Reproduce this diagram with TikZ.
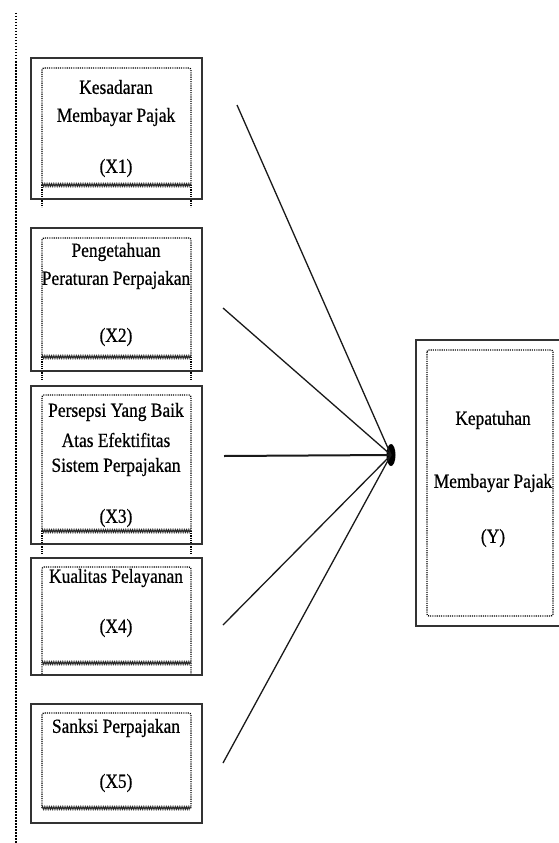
\documentclass[tikz,border=0pt]{standalone}
\usepackage{fontspec}
\setmainfont[FakeStretch=0.87,FakeBold=0.6]{Liberation Serif}
\usetikzlibrary{decorations.pathmorphing}
\tikzset{
  outerbox/.style={draw=black!80, line width=1.8pt},
  innerbox/.style={draw=black, line width=1.3pt, dash pattern=on 1.1pt off 1.1pt, rounded corners=2pt},
  sideline/.style={draw=black, line width=1.3pt, dash pattern=on 1.1pt off 1.1pt},
  wavy/.style={draw=black!85, line width=0.8pt, decorate, decoration={zigzag, amplitude=1.5pt, segment length=1.8pt}},
  lbl/.style={inner sep=0pt, font=\fontsize{20}{22}\selectfont, text=black},
  link/.style={draw=black!90, line width=1.3pt},
  hlink/.style={draw=black!90, line width=2pt},
  guide/.style={draw=black, line width=1.8pt, dash pattern=on 1.5pt off 1.5pt}
}
\begin{document}
\begin{tikzpicture}[x=1pt, y=-1pt]
\useasboundingbox (0,0) rectangle (559,843);
% left dotted guide
\coordinate (g1) at (16,13);
\coordinate (g2) at (16,843);
\draw[guide] (g1) -- (g2);

% ---------- X1 ----------
\draw[sideline] (42,185) -- (42,207) (191,185) -- (191,207);
\node[outerbox, minimum width=171pt, minimum height=141pt, anchor=north west] (x1) at (30,57) {};
\draw[innerbox] (42,185) -- (42,68) -- (191,68) -- (191,185);
\draw[wavy] (42,185) -- (191,185);
\node[lbl] (t1a) at (116,87) {Kesadaran};
\node[lbl] (t1b) at (116,117) {Membayar Pajak};
\node[lbl] (t1c) at (116,168) {(X1)};

% ---------- X2 ----------
\draw[sideline] (42,357) -- (42,380) (191,357) -- (191,380);
\node[outerbox, minimum width=171pt, minimum height=143pt, anchor=north west] (x2) at (30,227) {};
\draw[innerbox] (42,357) -- (42,238) -- (191,238) -- (191,357);
\draw[wavy] (42,357) -- (191,357);
\node[lbl] (t2a) at (116,252) {Pengetahuan};
\node[lbl] (t2b) at (116,280) {Peraturan Perpajakan};
\node[lbl] (t2c) at (116,337) {(X2)};

% ---------- X3 ----------
\draw[sideline] (42,531) -- (42,555) (191,531) -- (191,555);
\node[outerbox, minimum width=171pt, minimum height=158pt, anchor=north west] (x3) at (30,385) {};
\draw[innerbox] (42,531) -- (42,395) -- (191,395) -- (191,531);
\node[lbl] (t3a) at (116,412) {Persepsi Yang Baik};
\node[lbl] (t3b) at (116,440) {Atas Efektifitas};
\node[lbl] (t3c) at (116,467) {Sistem Perpajakan};
\node[lbl] (t3d) at (116,518) {(X3)};
\fill[white] (43,528) rectangle (190,535);
\draw[wavy] (42,531) -- (191,531);

% ---------- X4 ----------
\node[outerbox, minimum width=171pt, minimum height=117pt, anchor=north west] (x4) at (30,557) {};
\draw[innerbox] (42,674) -- (42,567) -- (191,567) -- (191,674);
\draw[wavy] (42,663) -- (191,663);
\node[lbl] (t4a) at (116,578) {Kualitas Pelayanan};
\node[lbl] (t4b) at (116,628) {(X4)};

% ---------- X5 ----------
\node[outerbox, minimum width=171pt, minimum height=119pt, anchor=north west] (x5) at (30,703) {};
\draw[innerbox] (42,808) -- (42,713) -- (191,713) -- (191,808);
\draw[wavy] (42,808) -- (191,808);
\node[lbl] (t5a) at (116,728) {Sanksi Perpajakan};
\node[lbl] (t5b) at (116,783) {(X5)};

% ---------- Y ----------
\node[outerbox, minimum width=147pt, minimum height=286pt, anchor=north west] (y) at (415,339) {};
\draw[innerbox] (427,350) rectangle (553,616);
\node[lbl] (tya) at (493,420) {Kepatuhan};
\node[lbl] (tyb) at (493,483) {Membayar Pajak};
\node[lbl] (tyc) at (493,538) {(Y)};

% ---------- connectors ----------
\coordinate (s1) at (237,105);
\coordinate (s2) at (223,308);
\coordinate (s3) at (224,456);
\coordinate (s4) at (223,625);
\coordinate (s5) at (223,763);
\coordinate (j) at (391,455);
\fill[black] (j) ellipse [x radius=4.5pt, y radius=11pt];
\draw[link] (s1) -- (j);
\draw[link] (s2) -- (j);
\draw[hlink] (s3) -- (j);
\draw[link] (s4) -- (j);
\draw[link] (s5) -- (j);
\end{tikzpicture}
\end{document}
